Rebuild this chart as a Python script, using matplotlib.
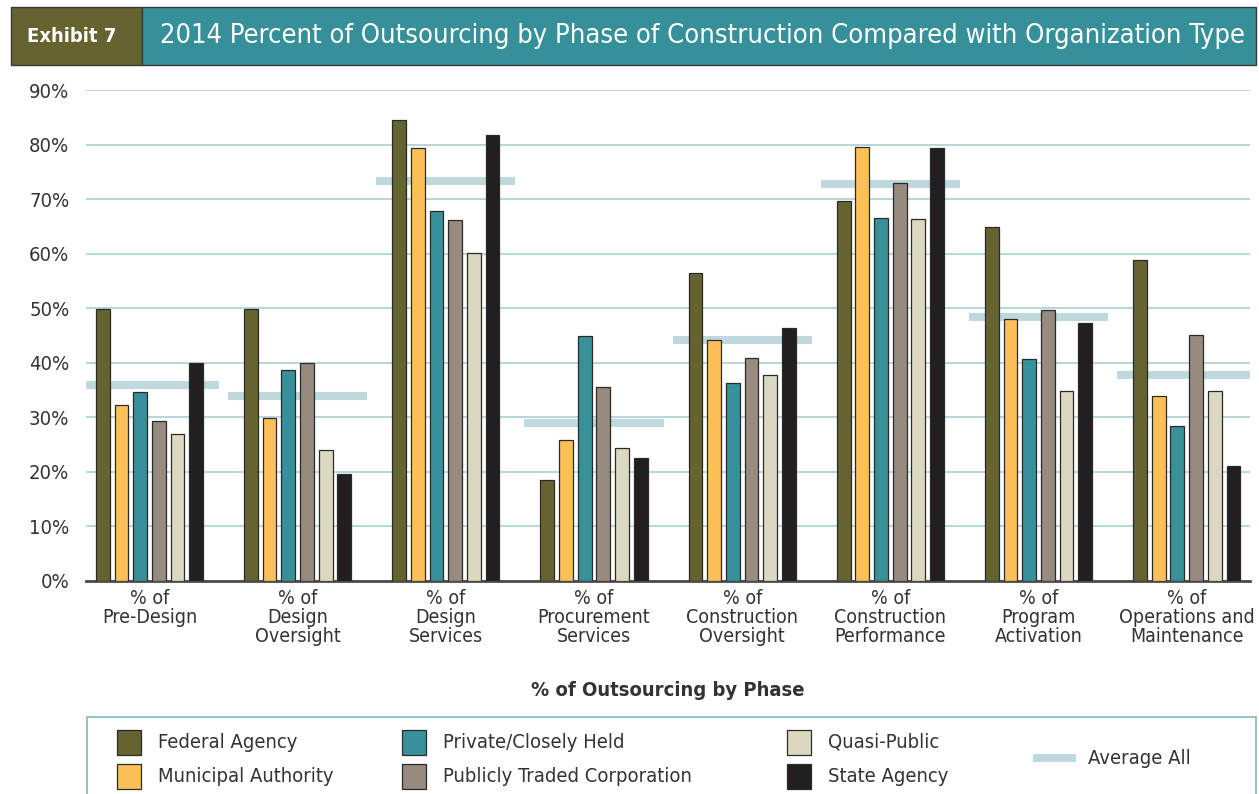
import matplotlib
matplotlib.use("Agg")
import matplotlib.pyplot as plt
import numpy as np
from matplotlib.patches import Rectangle
from matplotlib.lines import Line2D

plt.rcParams['font.family'] = ['DejaVu Sans']
plt.rcParams['font.stretch'] = 'condensed'

phases = ["% of\nPre-Design", "% of\nDesign\nOversight", "% of\nDesign\nServices",
          "% of\nProcurement\nServices", "% of\nConstruction\nOversight",
          "% of\nConstruction\nPerformance", "% of\nProgram\nActivation",
          "% of\nOperations and\nMaintenance"]
org_types = ["Federal Agency", "Municipal Authority", "Private/Closely Held",
             "Publicly Traded Corporation", "Quasi-Public", "State Agency"]

federal = [49.9, 49.9, 84.5, 18.5, 56.4, 69.7, 64.8, 58.9]
municipal = [32.2, 29.9, 79.3, 25.9, 44.1, 79.5, 48.0, 33.9]
private = [34.6, 38.6, 67.9, 44.9, 36.3, 66.5, 40.7, 28.5]
publicly = [29.3, 39.9, 66.2, 35.5, 40.9, 72.9, 49.6, 45.1]
quasi = [27.0, 24.1, 60.1, 24.3, 37.8, 66.3, 34.8, 34.8]
state = [39.9, 19.6, 81.7, 22.5, 46.4, 79.4, 47.3, 21.0]
average_all = [36.0, 34.0, 73.4, 28.9, 44.2, 72.8, 48.4, 37.8]

series = [federal, municipal, private, publicly, quasi, state]
colors = ["#656330", "#fdbf57", "#37919a", "#978a7e", "#dcd8bf", "#231f20"]
avg_color = "#bed8dd"
grid_color = "#a9cfd5"
text_color = "#333333"

fig = plt.figure(figsize=(12.59, 7.94), dpi=100)
ax = fig.add_axes([86 / 1259, 1 - 581 / 794, 1164 / 1259, 491 / 794])

x = np.arange(len(phases))
pitch = 0.126
width = 0.093
for k, (vals, c) in enumerate(zip(series, colors)):
    ax.bar(x + (k - 2.5) * pitch, vals, width, color=c, edgecolor="#2a2a2a",
           linewidth=0.9, zorder=3)

# average across all organisation types
ax.hlines(average_all, x - 0.47, x + 0.47, colors=avg_color, linewidth=5.8, zorder=2)

ax.set_xlim(-0.428, 7.427)
ax.set_ylim(0, 90)
ax.set_yticks(np.arange(0, 91, 10))
ax.set_yticklabels([f"{v}%" for v in range(0, 91, 10)], fontsize=14.5, color=text_color)
ax.set_xticks(x)
ax.set_xticklabels(phases, fontsize=14, color=text_color, linespacing=1.0)
ax.tick_params(axis="both", length=0)
ax.tick_params(axis="y", pad=12)
ax.tick_params(axis="x", pad=6)
ax.yaxis.grid(True, color=grid_color, linewidth=1.2, zorder=0)
ax.set_axisbelow(True)
for s in ["top", "right", "left"]:
    ax.spines[s].set_visible(False)
ax.spines["bottom"].set_color("#4a4a4a")
ax.spines["bottom"].set_linewidth(2)

fig.text(668 / 1259, 1 - 690 / 794, "% of Outsourcing by Phase", ha="center", va="center",
         fontsize=14.5, fontweight="bold", color=text_color)

# header bar
W, H = 1259, 794
fig.patches.append(Rectangle((11 / W, 1 - 65 / H), 131 / W, 58 / H, transform=fig.transFigure,
                             facecolor="#656330", edgecolor="#3a3a3a", linewidth=1))
fig.patches.append(Rectangle((142 / W, 1 - 65 / H), 1114 / W, 58 / H, transform=fig.transFigure,
                             facecolor="#36909a", edgecolor="#3a3a3a", linewidth=1))
fig.text(72 / W, 1 - 36 / H, "Exhibit 7", ha="center", va="center", color="white",
         fontsize=14.5, fontweight="bold")
fig.text(160 / W, 1 - 36 / H,
         "2014 Percent of Outsourcing by Phase of Construction Compared with Organization Type",
         ha="left", va="center", color="white", fontsize=19.5)

# legend box
fig.patches.append(Rectangle((87 / W, -0.02), 1169 / W, 0.02 + 77 / H, transform=fig.transFigure,
                             facecolor="white", edgecolor="#7fb8c0", linewidth=1.2))
cols = [117, 402, 787]
rows = [742, 776]
for k, (name, c) in enumerate(zip(org_types, colors)):
    cx = cols[k // 2]
    cy = rows[k % 2]
    fig.patches.append(Rectangle((cx / W, 1 - (cy + 12.5) / H), 24 / W, 25 / H,
                                 transform=fig.transFigure, facecolor=c,
                                 edgecolor="#2a2a2a", linewidth=0.9))
    fig.text((cx + 41) / W, 1 - cy / H, name, ha="left", va="center",
             fontsize=14.5, color=text_color)
fig.add_artist(Line2D([1037 / W, 1072 / W], [1 - 758 / H, 1 - 758 / H],
                      transform=fig.transFigure, color=avg_color, linewidth=5.8))
fig.text(1088 / W, 1 - 758 / H, "Average All", ha="left", va="center",
         fontsize=14.5, color=text_color)

fig.savefig("out.png", dpi=100)
